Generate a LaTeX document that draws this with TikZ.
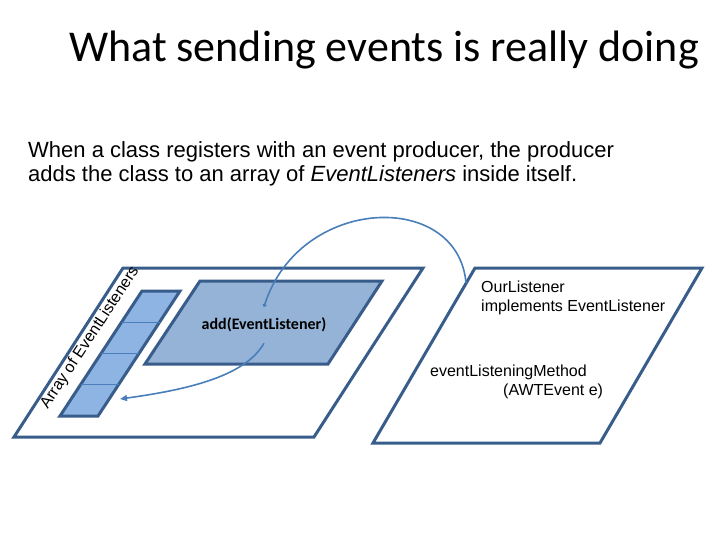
\documentclass[tikz,border=0pt]{standalone}
\usepackage{fontspec}
\setmainfont{Liberation Sans}
\newfontfamily\calibri{Carlito}
\usepackage{tikz}
\usetikzlibrary{arrows.meta}
\usepackage{xcolor}
\definecolor{edgeblue}{HTML}{385D8A}
\definecolor{boxblue}{HTML}{95B3D7}
\definecolor{slotblue}{HTML}{8EB4E3}
\definecolor{linkblue}{HTML}{4A7EBB}

\tikzset{
    plate/.style={draw=edgeblue, line width=3pt, line join=miter},
    link/.style={draw=linkblue, line width=1.6pt},
}

\begin{document}
\begin{tikzpicture}[x=1pt, y=-1pt]
        \useasboundingbox (0,0) rectangle (720,540);
        % headings
        \node[anchor=base, font=\calibri\fontsize{44}{50}\selectfont] (title) at (384,62) {What sending events is really doing};
        \node[anchor=base west, inner sep=0, align=left, font=\fontsize{22}{24}\selectfont] (intro) at (28,182)
            {When a class registers with an event producer, the producer\\adds the class to an array of \textit{EventListeners} inside itself.};
        % producer and its array
        \draw[plate, fill=white] (123,268) -- (423,268) -- (314,437) -- (14,437) -- cycle;
        \draw[plate, fill=slotblue] (142,291) -- (180,291) -- (98,416) -- (60,416) -- cycle;
        \foreach \y in {322,353,384}
        {
            \draw[linkblue, line width=1pt] ({142-(\y-291)*0.656},\y) -- ({180-(\y-291)*0.656},\y);
        }
        \node[rotate=56.7, inner sep=0, font=\fontsize{16}{18}\selectfont] (arrlbl) at (90,338) {Array of EventListeners};
        \draw[plate, fill=boxblue] (200,281) -- (382,281) -- (328,364) -- (145,364) -- cycle;
        \node[font=\calibri\bfseries\fontsize{16}{18}\selectfont, minimum height=36pt, inner sep=0] (addlbl) at (264,325) {add(EventListener)};
        % listener
        \draw[plate, fill=white] (475,268) -- (702,268) -- (600,443) -- (373,443) -- cycle;
        \node[anchor=north west, inner sep=0, align=left, font=\fontsize{16}{19}\selectfont] (ourl) at (481,281)
            {OurListener\\implements EventListener};
        \node[anchor=north west, inner sep=0, align=left, font=\fontsize{16}{19}\selectfont] (meth) at (430,365)
            {eventListeningMethod\\\hspace*{73pt}(AWTEvent e)};
        \coordinate (lsnr) at (466,283);
        \coordinate (slot) at (120,399);
        % registration
        \draw[link, -{Circle[length=3.5pt]}] (lsnr) .. controls (458,190) and (300,195) .. (addlbl.north);
        \draw[link, -{Triangle[length=7pt, width=6pt]}] (addlbl.south) .. controls (245,377) and (185,390) .. (slot);
    \end{tikzpicture}
\end{document}
